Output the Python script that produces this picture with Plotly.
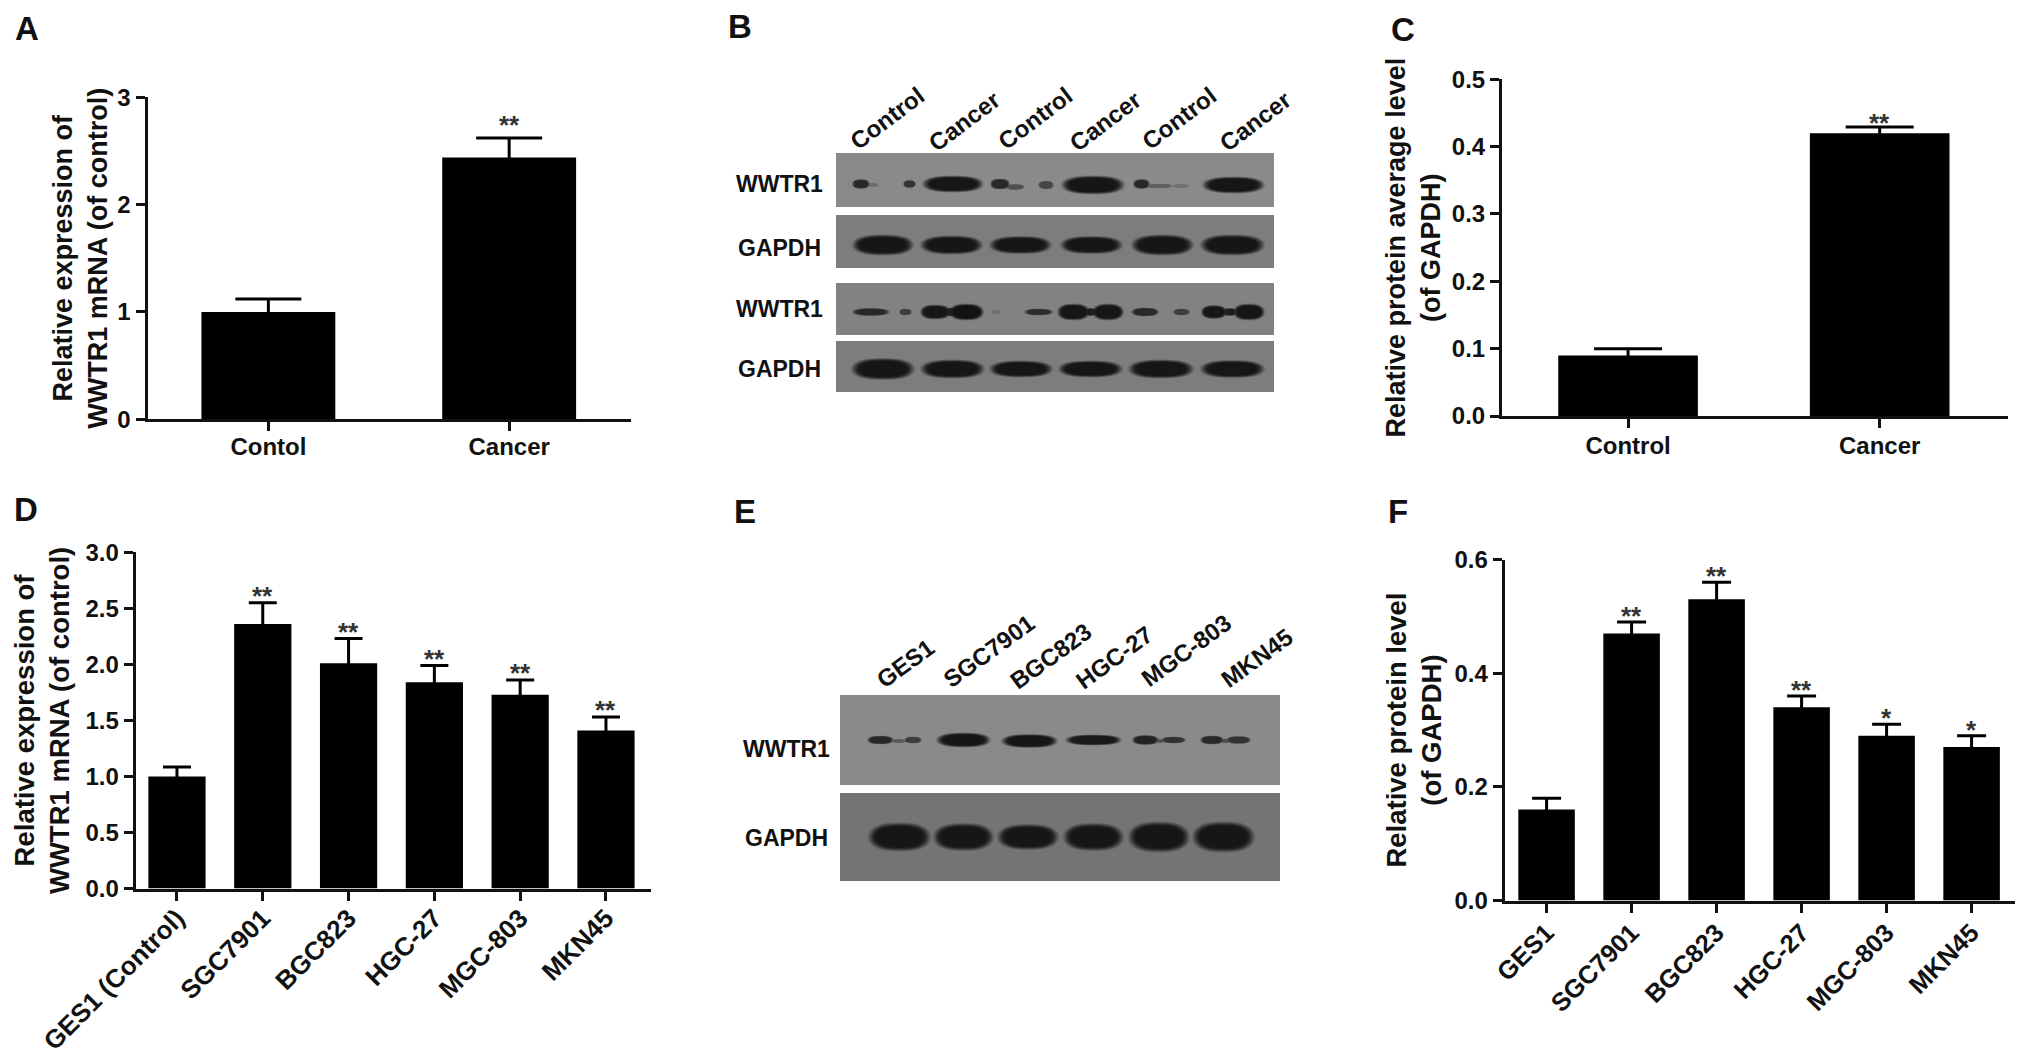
import numpy as np
import plotly.graph_objects as go

W, H = 2031, 1058
FONT = "Liberation Sans"

# ---------- bar data ----------
A_cats = ["Contol", "Cancer"]
A_vals = [1.0, 2.44]
A_err = [0.12, 0.18]
A_stars = ["", "**"]

C_cats = ["Control", "Cancer"]
C_vals = [0.09, 0.42]
C_err = [0.01, 0.009]
C_stars = ["", "**"]

D_cats = ["GES1 (Control)", "SGC7901", "BGC823", "HGC-27", "MGC-803", "MKN45"]
D_vals = [1.0, 2.36, 2.01, 1.84, 1.73, 1.41]
D_err = [0.085, 0.19, 0.22, 0.15, 0.13, 0.12]
D_stars = ["", "**", "**", "**", "**", "**"]

F_cats = ["GES1", "SGC7901", "BGC823", "HGC-27", "MGC-803", "MKN45"]
F_vals = [0.16, 0.47, 0.53, 0.34, 0.29, 0.27]
F_err = [0.02, 0.02, 0.03, 0.02, 0.02, 0.02]
F_stars = ["", "**", "**", "**", "*", "*"]

# ---------- blot data: (x1, x2, y centre, thickness, grey level), px inside each strip ----------
B_strip1 = [(15, 33, 30, 10, 40), (30, 42, 31, 4, 105), (66, 79, 30, 8, 50), (85, 147, 30, 17, 22),
            (153, 173, 30, 11, 40), (168, 188, 33, 6, 80), (201, 217, 31, 9, 70), (224, 288, 31, 19, 22),
            (296, 313, 30, 10, 40), (308, 336, 32, 5, 95), (335, 353, 32, 4, 112), (365, 428, 31, 17, 22)]
B_strip2 = [(15, 77, 30, 21, 22), (83, 146, 30, 19, 22), (152, 215, 30, 18, 22),
            (223, 286, 30, 18, 22), (294, 357, 30, 21, 22), (363, 428, 30, 21, 22)]
B_strip3 = [(15, 53, 29, 8, 40), (62, 75, 29, 7, 60), (83, 114, 29, 15, 22), (105, 125, 29, 9, 30),
            (112, 147, 29, 17, 18), (154, 164, 29, 5, 110), (187, 216, 29, 7, 45), (220, 253, 29, 17, 22),
            (245, 262, 29, 8, 30), (255, 287, 29, 17, 22), (294, 322, 29, 9, 40), (336, 353, 29, 7, 60),
            (364, 390, 29, 14, 22), (385, 400, 29, 8, 30), (396, 428, 29, 17, 22)]
B_strip4 = [(14, 78, 28, 22, 22), (83, 148, 28, 19, 22), (152, 216, 28, 17, 22),
            (221, 286, 28, 17, 22), (291, 357, 28, 19, 22), (363, 428, 28, 18, 22)]
B_strip_rows = [(0, 53, 138), (61, 114, 125), (129, 181, 130), (187, 239, 125)]

E_strip1 = [(26, 53, 44, 9, 40), (50, 66, 45, 4, 90), (63, 81, 44, 7, 60), (95, 150, 44, 15, 22),
            (160, 217, 45, 14, 22), (224, 281, 44, 11, 25), (291, 318, 44, 10, 35), (315, 323, 45, 4, 80),
            (320, 345, 44, 7, 50), (359, 383, 44, 9, 40), (380, 388, 45, 5, 80), (385, 410, 44, 8, 50)]
E_strip2 = [(27, 90, 44, 29, 22), (92, 153, 44, 28, 22), (156, 218, 44, 26, 22),
            (222, 283, 44, 28, 22), (287, 349, 44, 31, 22), (351, 414, 44, 31, 22)]
E_strip_rows = [(0, 89, 138), (97, 186, 116)]

B_lane_labels = ["Control", "Cancer", "Control", "Cancer", "Control", "Cancer"]
B_row_labels = ["WWTR1", "GAPDH", "WWTR1", "GAPDH"]
E_lane_labels = ["GES1", "SGC7901", "BGC823", "HGC-27", "MGC-803", "MKN45"]
E_row_labels = ["WWTR1", "GAPDH"]


def blot(width, height, rows, strips):
    z = np.full((height, width), 255.0)
    xx, yy = np.meshgrid(np.arange(width) + 0.5, np.arange(height) + 0.5)
    for (top, bottom, bg), bands in zip(rows, strips):
        grey = np.full((height, width), float(bg))
        for x1, x2, yc, thick, level in bands:
            xc, hw, hh = (x1 + x2) / 2, (x2 - x1) / 2, thick / 2
            r = (np.abs(xx - xc) / hw) ** 2.6 + (np.abs(yy - top - yc) / hh) ** 2.2
            t = np.clip((1.15 - r) / 0.75, 0, 1)
            a = t * t * (3 - 2 * t)
            grey = np.minimum(grey, bg * (1 - a) + level * a)
        mask = (yy >= top) & (yy < bottom)
        z[mask] = grey[mask]
    return z


fig = go.Figure()
layout = dict(width=W, height=H, margin=dict(l=0, r=0, t=0, b=0), autosize=False, template="none",
              paper_bgcolor="white", plot_bgcolor="white", showlegend=False,
              font=dict(family=FONT, size=24, color="#111111", weight="bold"))
annotations = []


def px(x):
    return x / W


def py(y):
    return 1 - y / H


def bar_panel(i, cats, vals, errs, stars, box, xrange, yrange, dtick, fmt, title, standoff,
              barw, cap, star_shift, tickangle, label_standoff, title_size=27, label_size=24):
    left, right, top, bottom = box
    sfx = str(i)
    fig.add_trace(go.Bar(x=cats, y=vals, width=barw, marker=dict(color="black", line=dict(width=0)),
                         error_y=dict(type="data", symmetric=True, array=errs,
                                      color="black", thickness=3, width=cap),
                         xaxis="x" + sfx, yaxis="y" + sfx))
    layout["xaxis" + sfx] = dict(domain=[px(left), px(right)], anchor="y" + sfx, type="category",
                                 range=xrange, showgrid=False, zeroline=False, showline=True,
                                 automargin=False, ticklabelstandoff=label_standoff,
                                 linecolor="#111111", linewidth=3, ticks="outside", ticklen=9,
                                 tickwidth=3, tickcolor="#111111", tickangle=tickangle,
                                 tickfont=dict(family=FONT, size=label_size, color="#111111", weight="bold"))
    layout["yaxis" + sfx] = dict(domain=[py(bottom), py(top)], anchor="x" + sfx, range=yrange, dtick=dtick,
                                 tickformat=fmt, showgrid=False, zeroline=False, showline=True,
                                 automargin=False,
                                 linecolor="#111111", linewidth=3, ticks="outside", ticklen=9,
                                 tickwidth=3, tickcolor="#111111",
                                 tickfont=dict(family=FONT, size=24, color="#111111", weight="bold"),
                                 title=dict(text=title, standoff=standoff,
                                            font=dict(family=FONT, size=title_size, color="#111111", weight="bold")))
    for c, v, e, s in zip(cats, vals, errs, stars):
        if s:
            annotations.append(dict(x=c, y=v + e, xref="x" + sfx, yref="y" + sfx, text=s, showarrow=False,
                                    yanchor="bottom", yshift=star_shift,
                                    font=dict(family=FONT, size=26, color="#333333", weight="bold")))


bar_panel(1, A_cats, A_vals, A_err, A_stars, (147.5, 631, 97.3, 419.3), [-0.502, 1.506], [0, 3], 1, "d",
          "Relative expression of<br>WWTR1 mRNA (of control)", 2, 0.556, 33, -4, 0, -5)
bar_panel(3, C_cats, C_vals, C_err, C_stars, (1502, 2008, 79.3, 416), [-0.501, 1.51], [0, 0.5], 0.1, ".1f",
          "Relative protein average level<br>(of GAPDH)", 4, 0.555, 34, -13, 0, -3)
bar_panel(4, D_cats, D_vals, D_err, D_stars, (135.7, 650.5, 552.3, 888.6), [-0.481, 5.519], [0, 3], 0.5, ".1f",
          "Relative expression of<br>WWTR1 mRNA (of control)", 8, 0.667, 14, -10, -45, -8, 27.5, 26)
bar_panel(6, F_cats, F_vals, F_err, F_stars, (1504.6, 2014.7, 559.6, 900.5), [-0.494, 5.507], [0, 0.6], 0.2, ".1f",
          "Relative protein level<br>(of GAPDH)", 5, 0.665, 14.5, -11, -45, -5, 27.5, 25.5)


def blot_panel(i, box, rows, strips):
    left, right, top, bottom = box
    w, h = int(right - left), int(bottom - top)
    sfx = str(i)
    fig.add_trace(go.Heatmap(z=blot(w, h, rows, strips), x=np.arange(w) + 0.5, y=np.arange(h) + 0.5,
                             colorscale=[[0, "#000000"], [1, "#ffffff"]], zmin=0, zmax=255, showscale=False,
                             zsmooth="best", xaxis="x" + sfx, yaxis="y" + sfx))
    layout["xaxis" + sfx] = dict(domain=[px(left), px(right)], anchor="y" + sfx, range=[0, w], visible=False,
                                 automargin=False)
    layout["yaxis" + sfx] = dict(domain=[py(bottom), py(top)], anchor="x" + sfx, range=[h, 0], visible=False,
                                 automargin=False)


blot_panel(2, (836, 1274, 153, 392), B_strip_rows, [B_strip1, B_strip2, B_strip3, B_strip4])
blot_panel(5, (840, 1280, 695, 881), E_strip_rows, [E_strip1, E_strip2])


def label(text, x, y, size=24, angle=0, color="#111111"):
    annotations.append(dict(text=text, x=px(x), y=py(y), xref="paper", yref="paper", showarrow=False,
                            xanchor="center", yanchor="middle", textangle=angle,
                            font=dict(family=FONT, size=size, color=color, weight="bold")))


for t, x, y in zip("ABCDEF", [27, 740, 1403, 26, 745, 1398], [28, 26, 29, 510, 512, 511]):
    label(t, x, y, size=33)
for t, x, y in zip(B_lane_labels, [887, 964, 1035, 1105, 1179, 1255], [119, 122, 119, 122, 119, 122]):
    label(t, x, y, angle=-37)
for t, y in zip(B_row_labels, [184, 248, 309, 369]):
    label(t, 779, y, size=23)
for t, x, y in zip(E_lane_labels, [905, 988, 1050, 1114, 1186, 1256], [663, 651, 656, 657, 650, 658]):
    label(t, x, y, angle=-36)
for t, y in zip(E_row_labels, [749, 838]):
    label(t, 786, y, size=23)

layout["annotations"] = annotations
fig.update_layout(**layout)
fig.write_html("out.html", config={"displayModeBar": False}, post_script="document.body.style.margin='0';")
